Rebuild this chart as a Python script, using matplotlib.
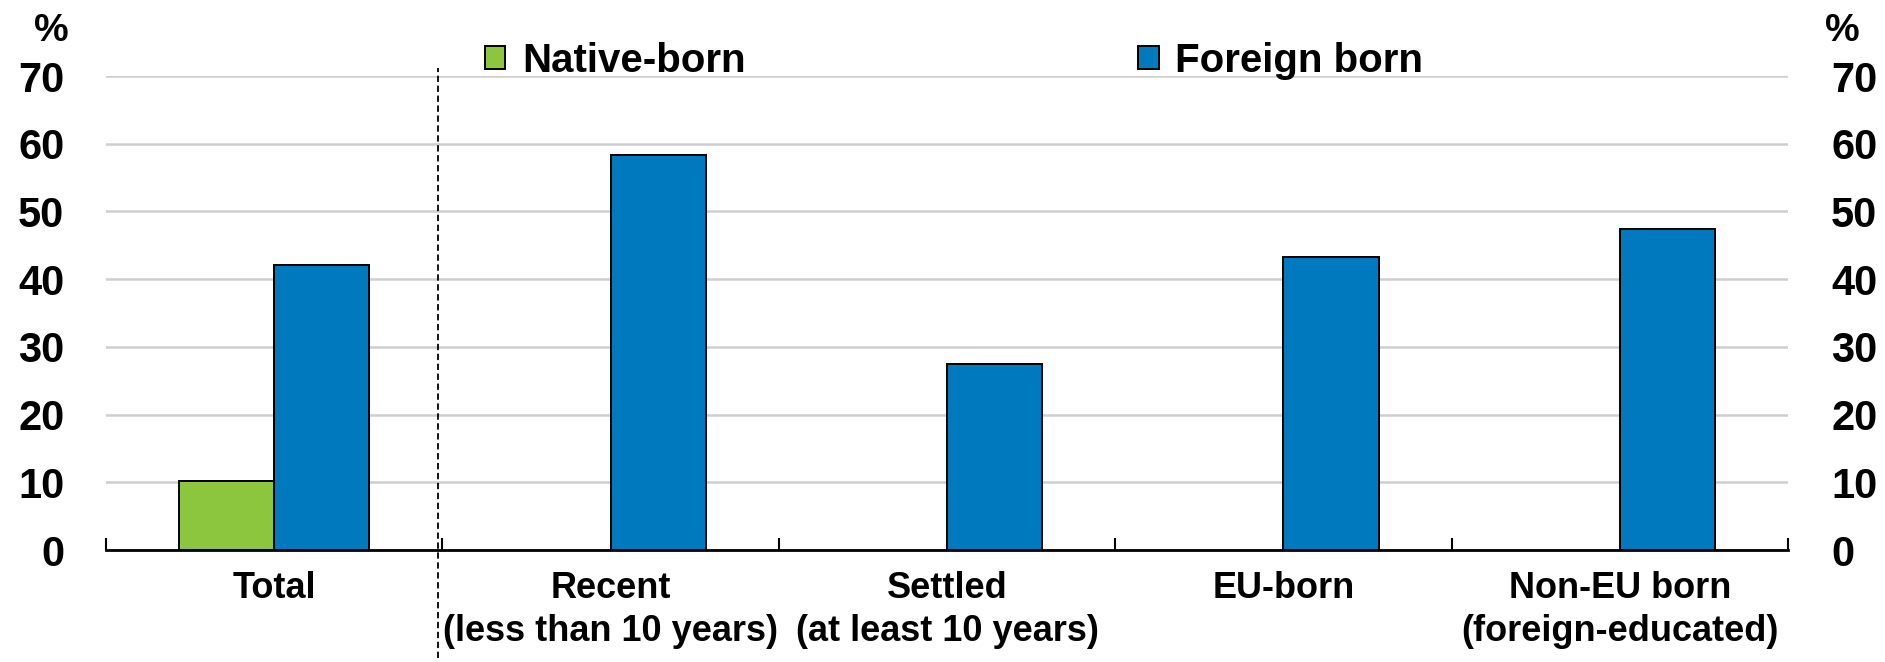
import numpy as np
import matplotlib
matplotlib.use("Agg")
import matplotlib.pyplot as plt
from matplotlib.ticker import FixedLocator

# data
categories = ["Total", "Recent\n(less than 10 years)", "Settled\n(at least 10 years)",
              "EU-born", "Non-EU born\n(foreign-educated)"]
native_born = [10.2, np.nan, np.nan, np.nan, np.nan]
foreign_born = [42.1, 58.3, 27.4, 43.2, 47.4]
yticks = [0, 10, 20, 30, 40, 50, 60, 70]

# styling
green = "#8cc63f"
blue = "#0079bf"
grid_col = "#cfcfcf"
plt.rcParams['font.family'] = ['Liberation Sans', 'DejaVu Sans']
plt.rcParams['font.weight'] = 'bold'

fig = plt.figure(figsize=(18.85, 6.62), dpi=100)
ax = fig.add_axes([106 / 1885, 1 - 550 / 662, 1682 / 1885, 474 / 662])

x = np.arange(len(categories))
w = 0.283
ax.bar(x - w / 2, native_born, w, color=green, edgecolor="black", linewidth=1.4,
       label="Native-born", zorder=3)
ax.bar(x + w / 2, foreign_born, w, color=blue, edgecolor="black", linewidth=1.4,
       label="Foreign born", zorder=3)

ax.set_xlim(-0.5, len(categories) - 0.5)
ax.set_ylim(0, 70)
ax.set_yticks(yticks)
ax.yaxis.grid(True, color=grid_col, linewidth=1.8, zorder=0)
ax.set_axisbelow(True)

for s in ["left", "right", "top"]:
    ax.spines[s].set_visible(False)
ax.spines["bottom"].set_linewidth(2)
ax.spines["bottom"].set_zorder(4)

ax.set_xticks(x)
ax.set_xticklabels(categories, fontsize=26, fontweight='bold', linespacing=1.3)
ax.xaxis.set_minor_locator(FixedLocator(np.arange(-0.5, len(categories), 1.0)))
ax.tick_params(axis='x', which='major', length=0, pad=15)
ax.tick_params(axis='x', which='minor', direction='in', length=8.5, width=1.5)
ax.tick_params(axis='y', length=0, labelsize=30, pad=30)

ax2 = ax.twinx()
ax2.set_ylim(ax.get_ylim())
ax2.set_yticks(yticks)
ax2.tick_params(axis='y', length=0, labelsize=30, pad=31)
for s in ax2.spines.values():
    s.set_visible(False)
for lab in ax.get_yticklabels() + ax2.get_yticklabels():
    lab.set_fontweight('bold')

# separator between total and breakdown
ax.plot([0.487, 0.487], [-16, 71.2], color="black", linewidth=1.3,
        linestyle=(0, (3.5, 2)), clip_on=False, zorder=5)

fig.text(51 / 1885, 1 - 31 / 662, "%", fontsize=28, fontweight='bold', ha='center', va='center')
fig.text(1842 / 1885, 1 - 31 / 662, "%", fontsize=28, fontweight='bold', ha='center', va='center')

leg = fig.legend(loc='center left', bbox_to_anchor=(485 / 1885, 1 - 61 / 662), ncol=2,
                 frameon=False, fontsize=29, handlelength=0.5, handleheight=0.5,
                 handletextpad=0.42, columnspacing=9.75, borderaxespad=0, borderpad=0)
for t in leg.get_texts():
    t.set_fontweight('bold')

plt.savefig("out.png", dpi=100)
